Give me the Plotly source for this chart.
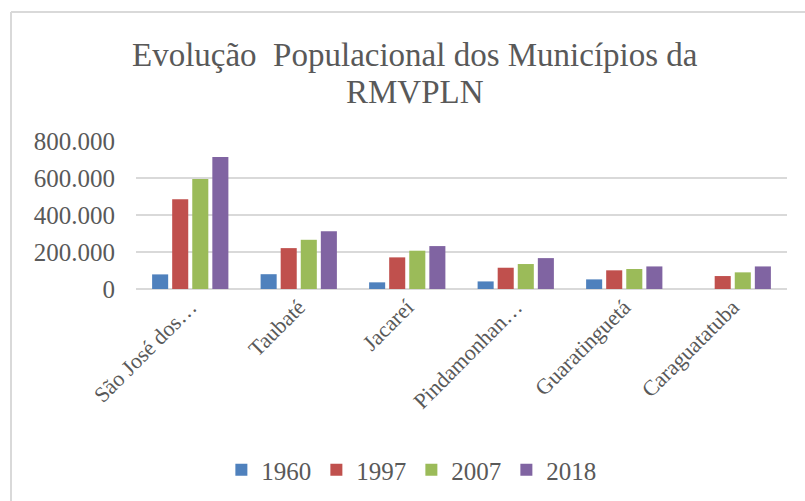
import plotly.graph_objects as go

categories = ["São José dos…", "Taubaté", "Jacareí", "Pindamonhan…", "Guaratinguetá", "Caraguatatuba"]
years = ["1960", "1997", "2007", "2018"]
pop_1960 = [79000, 80000, 36000, 41000, 52000, None]
pop_1997 = [485000, 221000, 171000, 115000, 101000, 70000]
pop_2007 = [595000, 266000, 207000, 135000, 108000, 90000]
pop_2018 = [713000, 312000, 232000, 167000, 122000, 122000]
series = [pop_1960, pop_1997, pop_2007, pop_2018]
colors = ["#4f81bd", "#c0504d", "#9bbb59", "#8064a2"]
tick_vals = [0, 200000, 400000, 600000, 800000]
tick_text = ["0", "200.000", "400.000", "600.000", "800.000"]
title_lines = ["Evolução  Populacional dos Municípios da", "RMVPLN"]

FONT = "Liberation Serif"
GRAY = "#595959"

fig = go.Figure()
for name, vals, col in zip(years, series, colors):
    fig.add_trace(go.Bar(x=categories, y=vals, name=name, marker=dict(color=col, line=dict(width=0))))

# plot area spans y 141..289 px, x 136..787 px
def py(px):
    return (289 - px) / 148

def px_x(px):
    return (px - 136) / 651

annotations = [
    dict(text=title_lines[0], xref="paper", yref="paper", x=px_x(415), y=py(55),
         xanchor="center", yanchor="middle", showarrow=False,
         font=dict(family=FONT, size=33, color=GRAY)),
    dict(text=title_lines[1], xref="paper", yref="paper", x=px_x(415), y=py(92),
         xanchor="center", yanchor="middle", showarrow=False,
         font=dict(family=FONT, size=33, color=GRAY)),
]

fig.update_layout(
    width=805, height=501,
    paper_bgcolor="white", plot_bgcolor="white",
    margin=dict(l=136, r=18, t=141, b=212),
    barmode="group", bargap=0.26, bargroupgap=0.2,
    font=dict(family=FONT, color=GRAY),
    annotations=annotations,
    showlegend=True,
    legend=dict(
        orientation="h", x=0.423, xanchor="center",
        y=(501 - 470) / 501, yanchor="middle", yref="container",
        font=dict(family=FONT, size=25, color=GRAY),
        traceorder="normal",
    ),
    xaxis=dict(
        tickangle=-45, tickfont=dict(family=FONT, size=22, color=GRAY),
        showgrid=False, showline=False, ticks="", automargin=False,
    ),
    yaxis=dict(
        range=[0, 800000], tickvals=tick_vals, ticktext=tick_text,
        tickfont=dict(family=FONT, size=25, color=GRAY),
        showgrid=True, gridcolor="#d9d9d9", gridwidth=2,
        zeroline=True, zerolinecolor="#d9d9d9", zerolinewidth=2,
        showline=False, ticks="", ticklabelstandoff=20, automargin=False,
    ),
    shapes=[
        dict(type="line", xref="paper", yref="paper",
             x0=px_x(11), x1=px_x(830), y0=py(12), y1=py(12),
             line=dict(color="#d9d9d9", width=2)),
        dict(type="line", xref="paper", yref="paper",
             x0=px_x(11), x1=px_x(11), y0=py(12), y1=py(530),
             line=dict(color="#d9d9d9", width=2)),
    ],
)

fig.write_html("out.html", config={"displayModeBar": False},
               post_script="document.body.style.margin='0';")
